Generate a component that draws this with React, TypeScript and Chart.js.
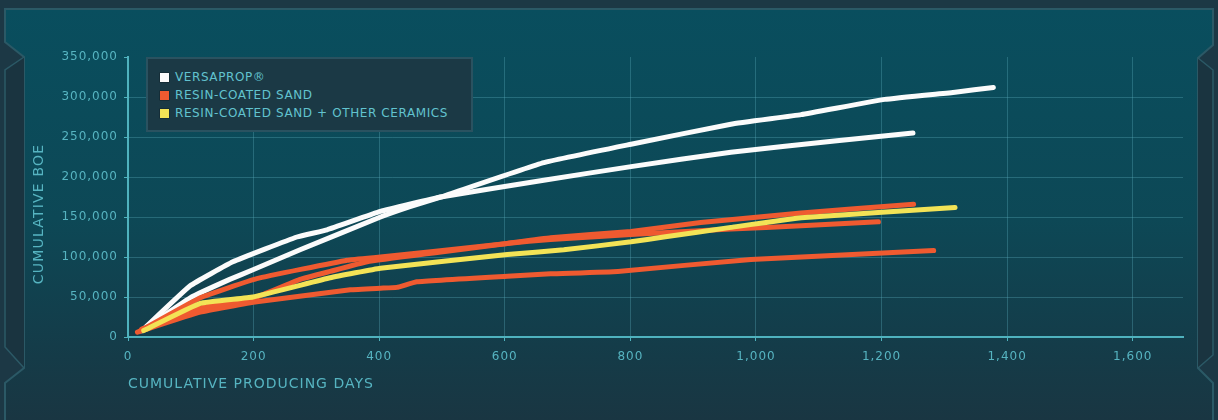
import React, { useEffect, useRef } from "react";
import { Chart, registerables } from "chart.js";

Chart.register(...registerables);

// ---------- data ----------
const seriesNames = ["VERSAPROP®", "RESIN-COATED SAND", "RESIN-COATED SAND + OTHER CERAMICS"];
const seriesColors = ["#fbfbfb", "#ef5a30", "#f3e356"];

const xTickValues = [0, 200, 400, 600, 800, 1000, 1200, 1400, 1600];
const yTickValues = [0, 50000, 100000, 150000, 200000, 250000, 300000, 350000];
const xMax = 1680;
const yMax = 350000;

const versaADays = [25, 99, 167, 269, 317, 402, 498, 662, 801, 960, 1125, 1250];
const versaABoe = [10000, 64000, 94000, 125000, 134000, 157000, 175000, 196000, 213000, 231000, 245000, 255000];

const versaBDays = [22, 99, 162, 199, 274, 402, 449, 498, 662, 801, 960, 1072, 1205, 1317, 1378];
const versaBBoe = [8000, 49000, 72000, 84000, 109000, 150000, 163000, 175000, 218000, 241000, 266000, 278000, 297000, 306000, 312000];

const sandADays = [18, 115, 205, 349, 402, 486, 604, 673, 801, 960, 1072, 1195];
const sandABoe = [7000, 49000, 73000, 96000, 100000, 107000, 117000, 122000, 128000, 135000, 139000, 144000];

const sandBDays = [22, 115, 205, 274, 322, 381, 486, 604, 673, 801, 912, 1072, 1251];
const sandBBoe = [10000, 36000, 50000, 72000, 82000, 94000, 105000, 117000, 124000, 132000, 143000, 155000, 166000];

const sandCDays = [15, 115, 205, 354, 402, 428, 460, 604, 673, 780, 992, 1283];
const sandCBoe = [6000, 31000, 44000, 59000, 61000, 62000, 69000, 76000, 79000, 82000, 97000, 108000];

const mixDays = [25, 115, 199, 322, 402, 604, 694, 801, 853, 960, 1072, 1317];
const mixBoe = [8000, 42000, 50000, 74000, 86000, 103000, 109000, 119000, 125000, 137000, 149000, 162000];

const xTitle = "CUMULATIVE PRODUCING DAYS";
const yTitle = "CUMULATIVE BOE";

// ---------- styles ----------
const FONT = "'DejaVu Sans', sans-serif";
const textColor = "#56b4c1";
const axisColor = "#4fb2be";
const gridColor = "rgba(95,175,190,0.33)";

const pts = (d: number[], v: number[]) => d.map((x, i) => ({ x, y: v[i] }));

export default function App() {
  const ref = useRef<HTMLCanvasElement>(null);

  useEffect(() => {
    document.body.style.margin = "0";
    const spacing = {
      id: "spacing",
      beforeUpdate(c: any) {
        c.ctx.letterSpacing = "1px";
      },
      beforeDraw(c: any) {
        c.ctx.letterSpacing = "1px";
      },
      afterDraw(c: any) {
        const ctx = c.ctx;
        ctx.save();
        ctx.letterSpacing = "1.2px";
        ctx.fillStyle = textColor;
        ctx.font = `14px ${FONT}`;
        ctx.textAlign = "center";
        ctx.textBaseline = "middle";
        ctx.translate(39, 214);
        ctx.rotate(-Math.PI / 2);
        ctx.fillText(yTitle, 0, 0);
        ctx.restore();
      },
    };

    const line = (label: string, color: string, d: number[], v: number[]) => ({
      label,
      data: pts(d, v),
      borderColor: color,
      backgroundColor: color,
      borderWidth: 5,
      borderCapStyle: "round",
      borderJoinStyle: "round",
      pointRadius: 0,
      tension: 0.1,
      fill: false,
    });

    const chart = new Chart(ref.current as HTMLCanvasElement, {
      type: "line",
      data: {
        datasets: [
          line(seriesNames[2], seriesColors[2], mixDays, mixBoe),
          line(seriesNames[1], seriesColors[1], sandADays, sandABoe),
          line(seriesNames[1], seriesColors[1], sandBDays, sandBBoe),
          line(seriesNames[1], seriesColors[1], sandCDays, sandCBoe),
          line(seriesNames[0], seriesColors[0], versaADays, versaABoe),
          line(seriesNames[0], seriesColors[0], versaBDays, versaBBoe),
        ] as any,
      },
      options: {
        animation: false,
        responsive: false,
        devicePixelRatio: 1,
        layout: { padding: { top: 57, right: 35, bottom: 23, left: 0 } },
        plugins: { legend: { display: false }, tooltip: { enabled: false } },
        scales: {
          x: {
            type: "linear",
            min: 0,
            max: xMax,
            afterBuildTicks: (s: any) => {
              s.ticks = xTickValues.map((value) => ({ value }));
            },
            afterFit: (s: any) => {
              s.height = 60;
            },
            ticks: {
              color: textColor,
              font: { family: FONT, size: 12 },
              padding: 9,
              maxRotation: 0,
              autoSkip: false,
              callback: (v: any) => Number(v).toLocaleString("en-US"),
            },
            grid: { color: gridColor, tickColor: axisColor, tickLength: 4, lineWidth: 1 },
            border: { color: axisColor, width: 2 },
            title: {
              display: true,
              text: xTitle,
              align: "start",
              color: textColor,
              font: { family: FONT, size: 14 },
              padding: { top: 0, bottom: 4.6 },
            },
          },
          y: {
            type: "linear",
            min: 0,
            max: yMax,
            afterBuildTicks: (s: any) => {
              s.ticks = yTickValues.map((value) => ({ value }));
            },
            afterFit: (s: any) => {
              s.width = 128;
            },
            ticks: {
              color: textColor,
              font: { family: FONT, size: 12 },
              padding: 6,
              autoSkip: false,
              callback: (v: any) => Number(v).toLocaleString("en-US"),
            },
            grid: {
              color: (c: any) => (c.tick && c.tick.value === yMax ? "rgba(0,0,0,0)" : gridColor),
              tickColor: axisColor,
              tickLength: 4,
              lineWidth: 1,
            },
            border: { color: axisColor, width: 2 },
          },
        },
      } as any,
      plugins: [spacing],
    });
    return () => chart.destroy();
  }, []);

  const legendRows = [0, 1, 2];

  return (
    <div style={{ position: "relative", width: 1218, height: 420, overflow: "hidden" }}>
      <svg width={1218} height={420} style={{ position: "absolute", left: 0, top: 0 }}>
        <defs>
          <linearGradient id="panelGrad" x1="0" y1="0" x2="0" y2="1">
            <stop offset="0" stopColor="#094e5e" />
            <stop offset="0.5" stopColor="#0d4856" />
            <stop offset="0.8" stopColor="#143c49" />
            <stop offset="1" stopColor="#1a3541" />
          </linearGradient>
        </defs>
        <rect x={0} y={0} width={1218} height={420} fill="#1c3845" />
        <path
          d="M5,9 L1213,9 L1213,45 L1198,58 L1198,368 L1213,383 L1213,430 L5,430 L5,383 L24,368 L24,57 L5,42 Z"
          fill="url(#panelGrad)"
          stroke="#2b5966"
          strokeWidth={2}
        />
        <path d="M24,57 L5,70 L5,347 L24,368" fill="#1a3440" stroke="#2b5966" strokeWidth={1.5} />
        <path d="M1198,58 L1213,70 L1213,355 L1198,368" fill="#1a3440" stroke="#2b5966" strokeWidth={1.5} />
      </svg>
      <canvas
        ref={ref}
        width={1218}
        height={420}
        style={{ position: "absolute", left: 0, top: 0, width: 1218, height: 420 }}
      />
      <div
        style={{
          position: "absolute",
          left: 146,
          top: 57,
          width: 327,
          height: 75,
          boxSizing: "border-box",
          background: "#1b3945",
          border: "2px solid #2a5260",
          fontFamily: FONT,
          fontSize: 12,
          letterSpacing: "0.6px",
          color: "#62c3cf",
        }}
      >
        {legendRows.map((i) => (
          <div
            key={i}
            style={{
              position: "absolute",
              left: 12,
              top: 11 + i * 18.2,
              height: 14,
              display: "flex",
              alignItems: "center",
              whiteSpace: "nowrap",
            }}
          >
            <span
              style={{
                display: "inline-block",
                width: 9,
                height: 9,
                background: seriesColors[i],
                marginRight: 6,
                boxShadow: "0 0 0 0.5px rgba(0,0,0,0.4)",
              }}
            />
            <span>{seriesNames[i]}</span>
          </div>
        ))}
      </div>
    </div>
  );
}
